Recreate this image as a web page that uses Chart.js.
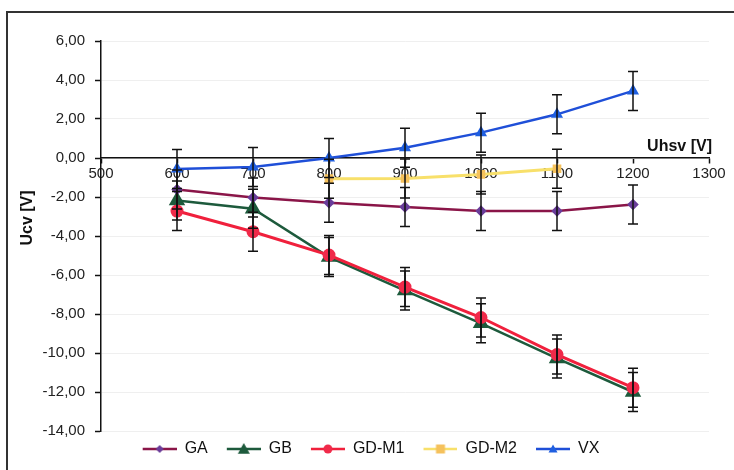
<!DOCTYPE html>
<html>
<head>
<meta charset="utf-8">
<script src="https://cdn.jsdelivr.net/npm/chart.js@4.4.1/dist/chart.umd.min.js"></script>
<style>
html, body { margin: 0; padding: 0; background: #fff; }
#wrap { width: 734px; height: 470px; position: relative; }
</style>
</head>
<body>
<div id="wrap"><canvas id="myChart"></canvas></div>
<script>
// data
const voltages = [600, 700, 800, 900, 1000, 1100, 1200];
const gaValues = [-1.62, -2.03, -2.29, -2.51, -2.72, -2.72, -2.38];
const gbValues = [-2.18, -2.6, -5.08, -6.8, -8.48, -10.28, -12.0];
const gdm1Values = [-2.72, -3.78, -4.98, -6.62, -8.18, -10.08, -11.78];
const gdm2Values = [null, null, -1.06, -1.05, -0.84, -0.55, null];
const vxValues = [-0.56, -0.46, 0.0, 0.53, 1.3, 2.24, 3.44];

// error bar half widths
const gaErrors = [1.0, 1.0, 1.0, 1.0, 1.0, 1.0, 1.0];
const gbErrors = [1.0, 1.0, 1.0, 1.0, 1.0, 1.0, 1.0];
const gdm1Errors = [1.0, 1.0, 1.0, 1.0, 1.0, 1.0, 1.0];
const gdm2Errors = [null, null, 1.0, 1.0, 1.0, 1.0, null];
const vxErrors = [1.0, 1.0, 1.0, 1.0, 1.0, 1.0, 1.0];

const xTickValues = [500, 600, 700, 800, 900, 1000, 1100, 1200, 1300];
const yTickValues = [-14, -12, -10, -8, -6, -4, -2, 0, 2, 4, 6];

const FONT = '"Liberation Sans", Arial, sans-serif';

function points(values) {
    return voltages.map((x, i) => ({ x: x, y: values[i] }));
}

// small line + marker picture for the legend
function legendSymbol(ds) {
    const c = document.createElement('canvas');
    c.width = 43;
    c.height = 16;
    const g = c.getContext('2d');
    const cx = 26, cy = 8, r = ds.legendRadius;
    g.strokeStyle = ds.borderColor;
    g.lineWidth = 2.5;
    g.beginPath();
    g.moveTo(9, cy);
    g.lineTo(43, cy);
    g.stroke();
    g.fillStyle = ds.pointBackgroundColor;
    g.beginPath();
    if (ds.pointStyle === 'circle') {
        g.arc(cx, cy, r, 0, Math.PI * 2);
    } else if (ds.pointStyle === 'triangle') {
        g.moveTo(cx, cy - r);
        g.lineTo(cx + r, cy + r * 0.8);
        g.lineTo(cx - r, cy + r * 0.8);
        g.closePath();
    } else if (ds.pointStyle === 'rectRot') {
        g.moveTo(cx, cy - r);
        g.lineTo(cx + r, cy);
        g.lineTo(cx, cy + r);
        g.lineTo(cx - r, cy);
        g.closePath();
    } else {
        g.rect(cx - r, cy - r, r * 2, r * 2);
    }
    g.fill();
    return c;
}

const datasets = [
    {
        label: 'GA', data: points(gaValues), errors: gaErrors,
        borderColor: '#8a1548', backgroundColor: '#6a3d9a',
        pointBackgroundColor: '#6a3d9a', pointBorderColor: '#6a3d9a',
        pointStyle: 'rectRot', pointRadius: 4, borderWidth: 2.5, legendRadius: 4, order: 2
    },
    {
        label: 'GB', data: points(gbValues), errors: gbErrors,
        borderColor: '#1d5a3c', backgroundColor: '#1d5a3c',
        pointBackgroundColor: '#1d5a3c', pointBorderColor: '#1d5a3c',
        pointStyle: 'triangle', pointRadius: 7, borderWidth: 2.5, legendRadius: 6, order: 3
    },
    {
        label: 'GD-M1', data: points(gdm1Values), errors: gdm1Errors,
        borderColor: '#f0203c', backgroundColor: '#f02a4a',
        pointBackgroundColor: '#f02a4a', pointBorderColor: '#f02a4a',
        pointStyle: 'circle', pointRadius: 5, borderWidth: 3, legendRadius: 4.5, order: 1
    },
    {
        label: 'GD-M2', data: points(gdm2Values), errors: gdm2Errors,
        borderColor: '#f8e06a', backgroundColor: '#f5c15c',
        pointBackgroundColor: '#f5c15c', pointBorderColor: '#f5c15c',
        pointStyle: 'rect', pointRadius: 4, borderWidth: 3, legendRadius: 4.5, order: 4
    },
    {
        label: 'VX', data: points(vxValues), errors: vxErrors,
        borderColor: '#1f4fd8', backgroundColor: '#1f5fe0',
        pointBackgroundColor: '#1f5fe0', pointBorderColor: '#1f5fe0',
        pointStyle: 'triangle', pointRadius: 4.5, borderWidth: 2.5, legendRadius: 4.5, order: 0
    }
];

const legendSymbols = datasets.map(legendSymbol);

// error bars on top of the lines
const errorBars = {
    id: 'errorBars',
    afterDatasetsDraw(chart) {
        const ctx = chart.ctx;
        const yScale = chart.scales.y;
        ctx.save();
        ctx.strokeStyle = '#111';
        ctx.lineWidth = 1.5;
        chart.data.datasets.forEach((ds, i) => {
            const meta = chart.getDatasetMeta(i);
            ds.data.forEach((p, j) => {
                const err = ds.errors[j];
                if (p.y === null || err === null) return;
                const x = meta.data[j].x;
                const top = yScale.getPixelForValue(p.y + err);
                const bottom = yScale.getPixelForValue(p.y - err);
                ctx.beginPath();
                ctx.moveTo(x, top);
                ctx.lineTo(x, bottom);
                ctx.moveTo(x - 5, top);
                ctx.lineTo(x + 5, top);
                ctx.moveTo(x - 5, bottom);
                ctx.lineTo(x + 5, bottom);
                ctx.stroke();
            });
        });
        ctx.restore();
    }
};

// frame and axis titles
const decorations = {
    id: 'decorations',
    beforeDraw(chart) {
        const ctx = chart.ctx;
        ctx.save();
        ctx.strokeStyle = '#333';
        ctx.lineWidth = 2;
        ctx.beginPath();
        ctx.moveTo(7, chart.height);
        ctx.lineTo(7, 12);
        ctx.lineTo(chart.width, 12);
        ctx.stroke();
        ctx.restore();
    },
    afterDraw(chart) {
        const ctx = chart.ctx;
        const area = chart.chartArea;
        const zeroY = chart.scales.y.getPixelForValue(0);
        ctx.save();
        ctx.fillStyle = '#111';
        ctx.font = 'bold 16px ' + FONT;
        ctx.textAlign = 'right';
        ctx.textBaseline = 'alphabetic';
        ctx.fillText('Uhsv [V]', area.right + 3, zeroY - 7);
        ctx.translate(28, 218);
        ctx.rotate(-Math.PI / 2);
        ctx.textAlign = 'center';
        ctx.textBaseline = 'middle';
        ctx.fillText('Ucv [V]', 0, 0);
        ctx.restore();
    }
};

const ctx = document.getElementById('myChart').getContext('2d');

const myChart = new Chart(ctx, {
    type: 'line',
    data: { datasets: datasets },
    options: {
        responsive: true,
        maintainAspectRatio: false,
        animation: false,
        layout: { padding: { top: 41, right: 25, bottom: 3, left: 24 } },
        elements: { line: { tension: 0 } },
        scales: {
            x: {
                type: 'linear',
                position: { y: 0 },
                min: 500,
                max: 1300,
                afterBuildTicks: axis => { axis.ticks = xTickValues.map(v => ({ value: v })); },
                ticks: {
                    autoSkip: false,
                    maxRotation: 0,
                    padding: 2,
                    color: '#222',
                    font: { family: FONT, size: 15 },
                    callback: value => String(value)
                },
                grid: { drawOnChartArea: false, tickLength: 5, tickColor: '#111', tickWidth: 1.5 },
                border: { color: '#111', width: 1.5 }
            },
            y: {
                min: -14,
                max: 6,
                afterBuildTicks: axis => { axis.ticks = yTickValues.map(v => ({ value: v })); },
                afterFit: scale => { scale.width = 77; },
                ticks: {
                    padding: 10,
                    color: '#222',
                    font: { family: FONT, size: 15 },
                    callback: value => value.toFixed(2).replace('.', ',')
                },
                grid: { color: '#efefef', tickLength: 6, tickColor: '#111', tickWidth: 1.5 },
                border: { color: '#111', width: 1.5 }
            }
        },
        plugins: {
            legend: {
                position: 'bottom',
                labels: {
                    usePointStyle: true,
                    pointStyleWidth: 43,
                    padding: 10,
                    color: '#111',
                    font: { family: FONT, size: 16 },
                    generateLabels: chart => chart.data.datasets.map((ds, i) => ({
                        text: ds.label,
                        pointStyle: legendSymbols[i],
                        datasetIndex: i,
                        hidden: false,
                        lineWidth: 0,
                        fontColor: '#111',
                        strokeStyle: 'rgba(0,0,0,0)',
                        fillStyle: 'rgba(0,0,0,0)'
                    }))
                }
            },
            tooltip: { enabled: false }
        }
    },
    plugins: [errorBars, decorations]
});
</script>
</body>
</html>
